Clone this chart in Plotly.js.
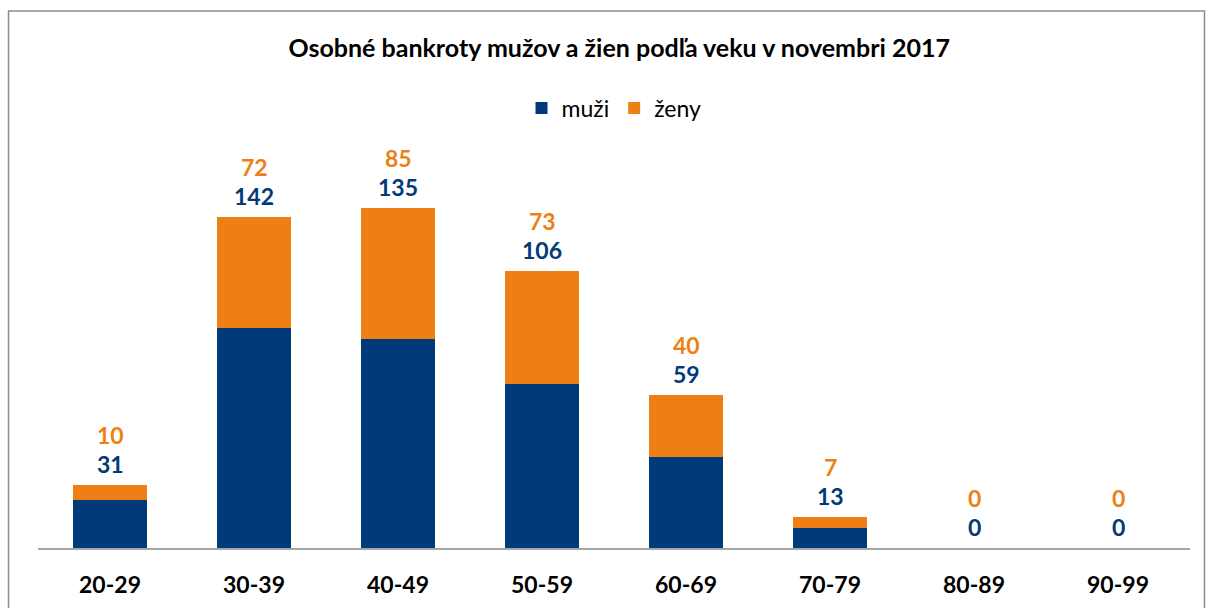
<!DOCTYPE html>
<html><head><meta charset="utf-8">
<script src="https://cdn.plot.ly/plotly-3.0.1.min.js"></script>
<style>html,body{margin:0;padding:0;background:#fff}</style>
</head><body>
<div id="chart" style="width:1207px;height:608px"></div>
<script>
const categories = ["20-29","30-39","40-49","50-59","60-69","70-79","80-89","90-99"];
const muzi = [31,142,135,106,59,13,0,0];
const zeny = [10,72,85,73,40,7,0,0];

const blue = "#003a78";
const orange = "#ee7f14";
const font = "Lato, 'Open Sans', sans-serif";

const traces = [
  {type:"bar", name:"muži", x:categories, y:muzi, marker:{color:blue}, hoverinfo:"none"},
  {type:"bar", name:"ženy", x:categories, y:zeny, marker:{color:orange}, hoverinfo:"none"}
];

const annotations = [];
categories.forEach((c,i)=>{
  const tot = muzi[i]+zeny[i];
  annotations.push({x:c, y:tot, yref:"y", xref:"x", text:String(muzi[i]), showarrow:false,
    yshift:21, font:{family:font, size:23, color:blue, weight:"bold"}});
  annotations.push({x:c, y:tot, yref:"y", xref:"x", text:String(zeny[i]), showarrow:false,
    yshift:50, font:{family:font, size:23, color:orange, weight:"bold"}});
});

const plotW = 1152, plotH = 402, ml = 38, mt = 146;
const layout = {
  width:1207, height:608,
  margin:{l:ml, r:17, t:mt, b:60},
  paper_bgcolor:"#fff", plot_bgcolor:"#fff",
  barmode:"stack", bargap:0.49,
  title:{text:"Osobné bankroty mužov a žien podľa veku v novembri 2017",
    font:{family:font, size:25, color:"#000", weight:"bold"},
    x:0.513, xanchor:"center", y:1-48/608, yanchor:"middle"},
  showlegend:true,
  legend:{orientation:"h", x:0.5, xanchor:"center", y:(548-108)/plotH, yanchor:"middle",
    font:{family:font, size:23, color:"#000"}, traceorder:"normal", itemwidth:30},
  xaxis:{type:"category", showgrid:false, zeroline:false, showline:true, linecolor:"#a6a6a6", linewidth:1.5,
    ticks:"", tickfont:{family:font, size:23, color:"#000", weight:"bold"}, ticklabelstandoff:16},
  yaxis:{range:[0,260], visible:false, showgrid:false, zeroline:false, fixedrange:true},
  annotations:annotations,
  shapes:[{type:"rect", xref:"paper", yref:"paper",
    x0:(8.5-ml)/plotW, x1:(1204.5-ml)/plotW, y0:(548-620)/plotH, y1:(548-11)/plotH,
    line:{color:"#8c8c8c", width:1.5}, fillcolor:"rgba(0,0,0,0)", layer:"below"}]
};

Plotly.newPlot("chart", traces, layout, {displayModeBar:false, staticPlot:true});
</script>
</body></html>
